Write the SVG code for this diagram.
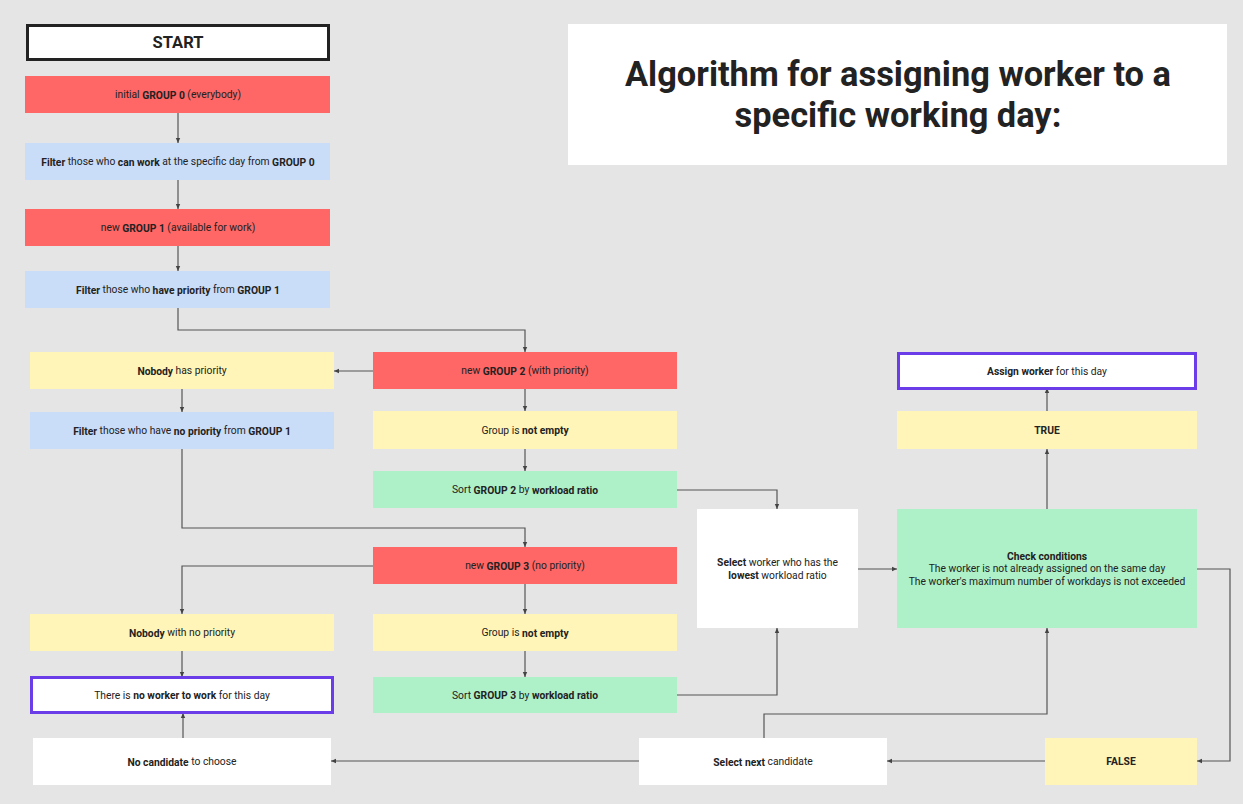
<svg xmlns="http://www.w3.org/2000/svg" width="1243" height="804" viewBox="0 0 1243 804">
<defs>
<marker id="ah" viewBox="0 0 6 6" refX="5" refY="3" markerWidth="6" markerHeight="6" orient="auto" markerUnits="userSpaceOnUse">
<path d="M0,0.8 L5,3 L0,5.2 z" fill="#444"/>
</marker>
<style>
text{font-family:Roboto,"Liberation Sans",sans-serif;font-size:10.3px;fill:#222;text-anchor:middle;dominant-baseline:central}
.b{font-weight:bold}
.red{fill:#ff6666}
.blue{fill:#c9dcf8}
.yel{fill:#fff5b8}
.grn{fill:#aef0c8}
.wht{fill:#ffffff}
.end{fill:#ffffff;stroke:#6a3de8;stroke-width:3}
.c{fill:none;stroke:#555;stroke-width:1.2;marker-end:url(#ah)}
</style>
</defs>
<rect width="1243" height="804" fill="#e5e5e5"/>
<g id="title">
<rect x="568" y="24" width="659" height="141" fill="#fff"/>
<text x="898" y="74" class="b" style="font-size:34.4px">Algorithm for assigning worker to a</text>
<text x="898" y="115" class="b" style="font-size:34.4px">specific working day:</text>
</g>
<g id="connectors">
<path class="c" d="M178,113 V143"/>
<path class="c" d="M178,180 V209"/>
<path class="c" d="M178,246 V271"/>
<path class="c" d="M178,308 V330 H525 V352"/>
<path class="c" d="M373,371 H334"/>
<path class="c" d="M182,389 V412"/>
<path class="c" d="M525,389 V411"/>
<path class="c" d="M525,449 V471"/>
<path class="c" d="M182,449 V528 H525 V547"/>
<path class="c" d="M373,566 H182 V614"/>
<path class="c" d="M525,584 V614"/>
<path class="c" d="M182,651 V677"/>
<path class="c" d="M525,651 V677"/>
<path class="c" d="M183,738 V713"/>
<path class="c" d="M677,490 H777 V509"/>
<path class="c" d="M677,695 H777 V628"/>
<path class="c" d="M858,569 H897"/>
<path class="c" d="M1047,509 V449"/>
<path class="c" d="M1047,411 V388"/>
<path class="c" d="M1197,569 H1230 V761 H1197"/>
<path class="c" d="M1045,761 H887"/>
<path class="c" d="M764,738 V714 H1047 V628"/>
<path class="c" d="M639,761 H331"/>
</g>
<g id="start">
<rect x="27.5" y="25.5" width="301" height="34" fill="#fff" stroke="#222" stroke-width="3"/>
<text x="178" y="42" class="b" style="font-size:16.5px">START</text>
</g>
<g id="group0">
<rect x="25" y="76" width="305" height="37" class="red"/>
<text x="178" y="94.5">initial <tspan class="b">GROUP 0</tspan> (everybody)</text>
</g>
<g id="filter0">
<rect x="25" y="143" width="305" height="37" class="blue"/>
<text x="178" y="161.5"><tspan class="b">Filter</tspan> those who <tspan class="b">can work</tspan> at the specific day from <tspan class="b">GROUP 0</tspan></text>
</g>
<g id="group1">
<rect x="25" y="209" width="305" height="37" class="red"/>
<text x="178" y="227.5">new <tspan class="b">GROUP 1</tspan> (available for work)</text>
</g>
<g id="filter1">
<rect x="25" y="271" width="305" height="37" class="blue"/>
<text x="178" y="289.5"><tspan class="b">Filter</tspan> those who <tspan class="b">have priority</tspan> from <tspan class="b">GROUP 1</tspan></text>
</g>
<g id="nobodyPriority">
<rect x="30" y="352" width="304" height="37" class="yel"/>
<text x="182" y="370.5"><tspan class="b">Nobody</tspan> has priority</text>
</g>
<g id="group2">
<rect x="373" y="352" width="304" height="37" class="red"/>
<text x="525" y="370.5">new <tspan class="b">GROUP 2</tspan> (with priority)</text>
</g>
<g id="filterNoPriority">
<rect x="30" y="412" width="304" height="37" class="blue"/>
<text x="182" y="430.5"><tspan class="b">Filter</tspan> those who have <tspan class="b">no priority</tspan> from <tspan class="b">GROUP 1</tspan></text>
</g>
<g id="notEmpty2">
<rect x="373" y="411" width="304" height="38" class="yel"/>
<text x="525" y="430">Group is <tspan class="b">not empty</tspan></text>
</g>
<g id="sort2">
<rect x="373" y="471" width="304" height="37" class="grn"/>
<text x="525" y="489.5">Sort <tspan class="b">GROUP 2</tspan> by <tspan class="b">workload ratio</tspan></text>
</g>
<g id="group3">
<rect x="373" y="547" width="304" height="37" class="red"/>
<text x="525" y="565.5">new <tspan class="b">GROUP 3</tspan> (no priority)</text>
</g>
<g id="nobodyNoPriority">
<rect x="30" y="614" width="304" height="37" class="yel"/>
<text x="182" y="632.5"><tspan class="b">Nobody</tspan> with no priority</text>
</g>
<g id="notEmpty3">
<rect x="373" y="614" width="304" height="37" class="yel"/>
<text x="525" y="632.5">Group is <tspan class="b">not empty</tspan></text>
</g>
<g id="noWorker">
<rect x="31.5" y="677.5" width="301" height="35" class="end"/>
<text x="182" y="695">There is <tspan class="b">no worker to work</tspan> for this day</text>
</g>
<g id="sort3">
<rect x="373" y="677" width="304" height="36" class="grn"/>
<text x="525" y="695">Sort <tspan class="b">GROUP 3</tspan> by <tspan class="b">workload ratio</tspan></text>
</g>
<g id="noCandidate">
<rect x="33" y="738" width="298" height="47" class="wht"/>
<text x="182" y="761.5"><tspan class="b">No candidate</tspan> to choose</text>
</g>
<g id="selectLowest">
<rect x="697" y="509" width="161" height="119" class="wht"/>
<text x="777.5" y="562"><tspan class="b">Select</tspan> worker who has the</text>
<text x="777.5" y="575"><tspan class="b">lowest</tspan> workload ratio</text>
</g>
<g id="check">
<rect x="897" y="509" width="300" height="119" class="grn"/>
<text x="1047" y="556" class="b">Check conditions</text>
<text x="1047" y="568.5">The worker is not already assigned on the same day</text>
<text x="1047" y="581">The worker's maximum number of workdays is not exceeded</text>
</g>
<g id="true">
<rect x="897" y="411" width="300" height="38" class="yel"/>
<text x="1047" y="430" class="b">TRUE</text>
</g>
<g id="assign">
<rect x="898.5" y="353.5" width="297" height="35" class="end"/>
<text x="1047" y="371"><tspan class="b">Assign worker</tspan> for this day</text>
</g>
<g id="false">
<rect x="1045" y="738" width="152" height="47" class="yel"/>
<text x="1121" y="761.5" class="b">FALSE</text>
</g>
<g id="selectNext">
<rect x="639" y="738" width="248" height="47" class="wht"/>
<text x="763" y="761.5"><tspan class="b">Select next</tspan> candidate</text>
</g>
</svg>
